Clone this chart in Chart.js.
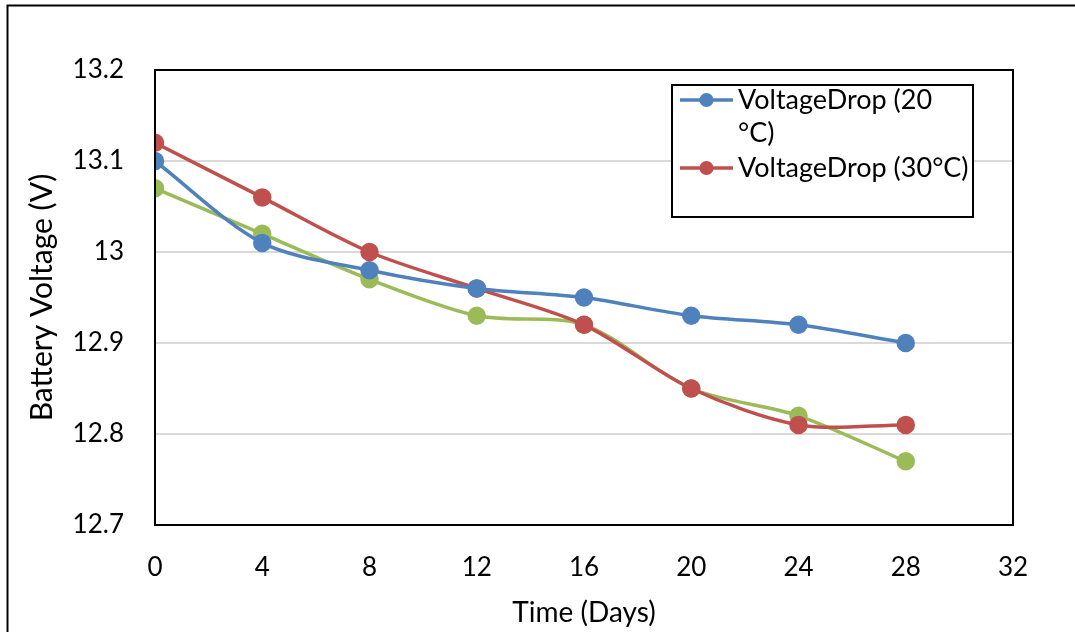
<!DOCTYPE html>
<html>
<head>
<meta charset="utf-8">
<script src="https://cdn.jsdelivr.net/npm/chart.js@4/dist/chart.umd.min.js"></script>
<style>
  html, body { margin: 0; padding: 0; background: #ffffff; }
  #wrap { width: 1075px; height: 632px; position: relative; }
</style>
</head>
<body>
<div id="wrap"><canvas id="c" width="1075" height="632"></canvas></div>
<script>
// Days since start of the test
const days = [0, 4, 8, 12, 16, 20, 24, 28];
// Battery voltage readings (V)
const voltage20C = [13.10, 13.01, 12.98, 12.96, 12.95, 12.93, 12.92, 12.90];
const voltage30C = [13.12, 13.06, 13.00, 12.96, 12.92, 12.85, 12.81, 12.81];
const voltageThird = [13.07, 13.02, 12.97, 12.93, 12.92, 12.85, 12.82, 12.77];
// Axis tick values
const xTicks = [0, 4, 8, 12, 16, 20, 24, 28, 32];
const yTicks = [12.7, 12.8, 12.9, 13.0, 13.1, 13.2];

const FONT = "Lato, 'Open Sans', sans-serif";
const BLUE = '#4f81bd', RED = '#c0504d', GREEN = '#9bbb59';

const toXY = (vals) => vals.map((v, i) => ({ x: days[i], y: v }));

function series(label, vals, color, inLegend) {
  return {
    label, data: toXY(vals), inLegend,
    borderColor: color, backgroundColor: color,
    pointBackgroundColor: color, pointBorderColor: color,
    borderWidth: 3.5, pointRadius: 7.5, pointHoverRadius: 7.5,
    tension: 0.3, cubicInterpolationMode: 'default', fill: false
  };
}

// Outer frame (left and top edges) and plot border
const framePlugin = {
  id: 'frame',
  beforeDraw(chart) {
    const ctx = chart.ctx;
    ctx.save();
    ctx.strokeStyle = '#000';
    ctx.lineWidth = 2;
    ctx.beginPath();
    ctx.moveTo(7.5, 632);
    ctx.lineTo(7.5, 5.5);
    ctx.lineTo(1075, 5.5);
    ctx.stroke();
    ctx.restore();
  },
  afterDatasetsDraw(chart) {
    const { left, top, right, bottom } = chart.chartArea;
    const ctx = chart.ctx;
    ctx.save();
    ctx.strokeStyle = '#000';
    ctx.lineWidth = 2;
    ctx.strokeRect(left, top, right - left, bottom - top);
    ctx.restore();
  }
};

// Boxed legend with word-wrapped entries
const boxLegend = {
  id: 'boxLegend',
  afterDraw(chart) {
    const ctx = chart.ctx;
    const bx = 672, by = 85, bw = 301, bh = 132;
    ctx.save();
    ctx.fillStyle = '#fff';
    ctx.fillRect(bx, by, bw, bh);
    ctx.strokeStyle = '#000';
    ctx.lineWidth = 2;
    ctx.strokeRect(bx, by, bw, bh);
    ctx.font = '27px ' + FONT;
    ctx.textBaseline = 'middle';
    ctx.fillStyle = '#000';
    const textX = 738, maxW = bx + bw - textX - 2, lineH = 33;
    let y = by + 15;
    chart.data.datasets.forEach(ds => {
      if (!ds.inLegend) return;
      // marker
      ctx.strokeStyle = ds.borderColor;
      ctx.lineWidth = 3.5;
      ctx.beginPath();
      ctx.moveTo(680, y);
      ctx.lineTo(733, y);
      ctx.stroke();
      ctx.fillStyle = ds.borderColor;
      ctx.beginPath();
      ctx.arc(706.5, y, 7, 0, Math.PI * 2);
      ctx.fill();
      // wrapped label
      const words = ds.label.split(' ');
      const lines = [];
      let cur = '';
      words.forEach(w => {
        const t = cur ? cur + ' ' + w : w;
        if (ctx.measureText(t).width > maxW && cur) { lines.push(cur); cur = w; }
        else cur = t;
      });
      lines.push(cur);
      ctx.fillStyle = '#000';
      lines.forEach((ln, i) => ctx.fillText(ln, textX, y + i * lineH));
      y += lines.length * lineH + 2;
    });
    ctx.restore();
  }
};

new Chart(document.getElementById('c'), {
  type: 'line',
  data: {
    datasets: [
      series('VoltageDrop (20 °C)', voltage20C, BLUE, true),
      series('VoltageDrop (30°C)', voltage30C, RED, true),
      series('', voltageThird, GREEN, false)
    ]
  },
  options: {
    responsive: false,
    animation: false,
    events: [],
    layout: { padding: { left: 0, top: 70, right: 62, bottom: 0 } },
    plugins: { legend: { display: false }, tooltip: { enabled: false } },
    scales: {
      x: {
        type: 'linear', min: 0, max: 32,
        afterBuildTicks: s => { s.ticks = xTicks.map(v => ({ value: v })); },
        afterFit: s => { s.height = 107; },
        grid: { display: false, drawTicks: false },
        border: { display: false },
        ticks: { color: '#000', font: { family: FONT, size: 26 }, padding: 27, maxRotation: 0 },
        title: { display: true, text: 'Time (Days)', color: '#000',
                 font: { family: FONT, size: 28 }, padding: { top: 0, bottom: 2 } }
      },
      y: {
        type: 'linear', min: 12.7, max: 13.2,
        afterBuildTicks: s => { s.ticks = yTicks.map(v => ({ value: v })); },
        afterFit: s => { s.width = 155; },
        grid: { color: '#d9d9d9', lineWidth: 2, drawTicks: false },
        border: { display: false },
        ticks: { color: '#000', font: { family: FONT, size: 26 }, padding: 31,
                 callback: v => String(Math.round(v * 10) / 10) },
        title: { display: true, text: 'Battery Voltage (V)', color: '#000',
                 font: { family: FONT, size: 30 }, padding: { top: 24, bottom: 0 } }
      }
    }
  },
  plugins: [framePlugin, boxLegend]
});
</script>
</body>
</html>
